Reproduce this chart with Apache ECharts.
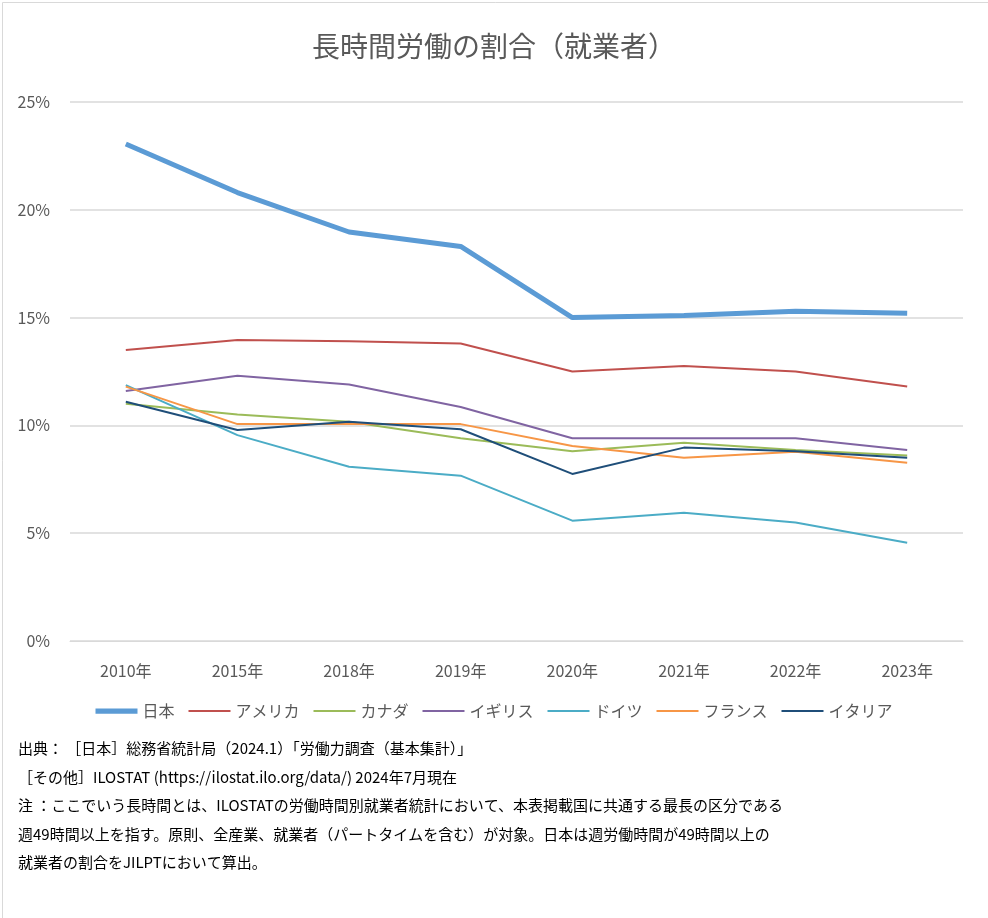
<!DOCTYPE html>
<html>
<head>
<meta charset="utf-8">
<script src="https://cdn.jsdelivr.net/npm/echarts@6/dist/echarts.min.js"></script>
<style>
  html, body { margin: 0; padding: 0; background: #fff; }
  #chart { width: 988px; height: 918px; }
</style>
</head>
<body>
<div id="chart"></div>
<script>
// 年
var years = ["2010年", "2015年", "2018年", "2019年", "2020年", "2021年", "2022年", "2023年"]

// 長時間労働の割合(%)
var japan   = [23.05, 20.8, 18.97, 18.3, 15.0, 15.1, 15.3, 15.2]
var usa     = [13.5, 13.96, 13.9, 13.8, 12.5, 12.75, 12.5, 11.8]
var canada  = [11.0, 10.5, 10.17, 9.4, 8.8, 9.2, 8.86, 8.6]
var uk      = [11.6, 12.3, 11.9, 10.85, 9.4, 9.4, 9.4, 8.86]
var germany = [11.87, 9.55, 8.08, 7.67, 5.58, 5.95, 5.5, 4.56]
var france  = [11.8, 10.06, 10.06, 10.06, 9.04, 8.5, 8.78, 8.27]
var italy   = [11.1, 9.79, 10.17, 9.82, 7.75, 8.97, 8.8, 8.5]

var names  = ["日本", "アメリカ", "カナダ", "イギリス", "ドイツ", "フランス", "イタリア"]
var colors = ["#5B9BD5", "#C0504D", "#9BBB59", "#8064A2", "#4BACC6", "#F79646", "#1F4E79"]
var values = [japan, usa, canada, uk, germany, france, italy]

var notes = [
    "出典： ［日本］総務省統計局（2024.1）「労働力調査（基本集計）」",
    "［その他］ILOSTAT (https://ilostat.ilo.org/data/) 2024年7月現在",
    "注 ：ここでいう長時間とは、ILOSTATの労働時間別就業者統計において、本表掲載国に共通する最長の区分である",
    "週49時間以上を指す。原則、全産業、就業者（パートタイムを含む）が対象。日本は週労働時間が49時間以上の",
    "就業者の割合をJILPTにおいて算出。"
]

var font = "'Noto Sans CJK JP', 'Noto Sans', sans-serif"

var series = names.map(function (n, i) {
    return {
        name: n,
        type: "line",
        data: values[i],
        symbol: "none",
        color: colors[i],
        lineStyle: { width: i === 0 ? 5 : 2, color: colors[i] },
        z: i === 0 ? 10 : 2
    }
})

// 凡例は線だけ(日本は太線)
var legendData = names.map(function (n, i) {
    return {
        name: n,
        icon: i === 0 ? "path://M0,0H40V5H0Z" : "path://M0,0H40V2H0Z",
        itemStyle: { color: colors[i] }
    }
})

var noteTexts = notes.map(function (t, i) {
    return {
        type: "text",
        left: 18,
        top: 741 + i * 28.5,
        style: { text: t, font: "15px " + font, fill: "#000" }
    }
})

var myChart = echarts.init(document.getElementById("chart"))
myChart.setOption({
    animation: false,
    backgroundColor: "#fff",
    textStyle: { fontFamily: font },
    title: {
        text: "長時間労働の割合（就業者）",
        left: "center",
        top: 27,
        textStyle: { fontSize: 28, fontWeight: "normal", color: "#595959", fontFamily: font }
    },
    grid: { left: 70, right: 25, top: 102, bottom: 277 },
    legend: {
        data: legendData,
        top: 698,
        left: "center",
        itemWidth: 42,
        itemHeight: 14,
        symbolKeepAspect: true,
        itemGap: 14,
        textStyle: { fontSize: 16, color: "#595959" }
    },
    xAxis: {
        type: "category",
        data: years,
        boundaryGap: true,
        axisLine: { lineStyle: { color: "#d9d9d9" } },
        axisTick: { show: false },
        axisLabel: { fontSize: 16, color: "#595959", margin: 22 }
    },
    yAxis: {
        type: "value",
        min: 0,
        max: 25,
        interval: 5,
        axisLine: { show: false },
        axisTick: { show: false },
        axisLabel: { formatter: "{value}%", fontSize: 16, color: "#595959", margin: 20 },
        splitLine: { lineStyle: { color: "#d9d9d9", width: 1.5 } }
    },
    series: series,
    graphic: [
        {
            type: "rect",
            left: 0,
            top: 0,
            shape: { width: 987, height: 917 },
            style: { fill: "none", stroke: "#d9d9d9", lineWidth: 1 }
        }
    ].concat(noteTexts)
})
</script>
</body>
</html>
